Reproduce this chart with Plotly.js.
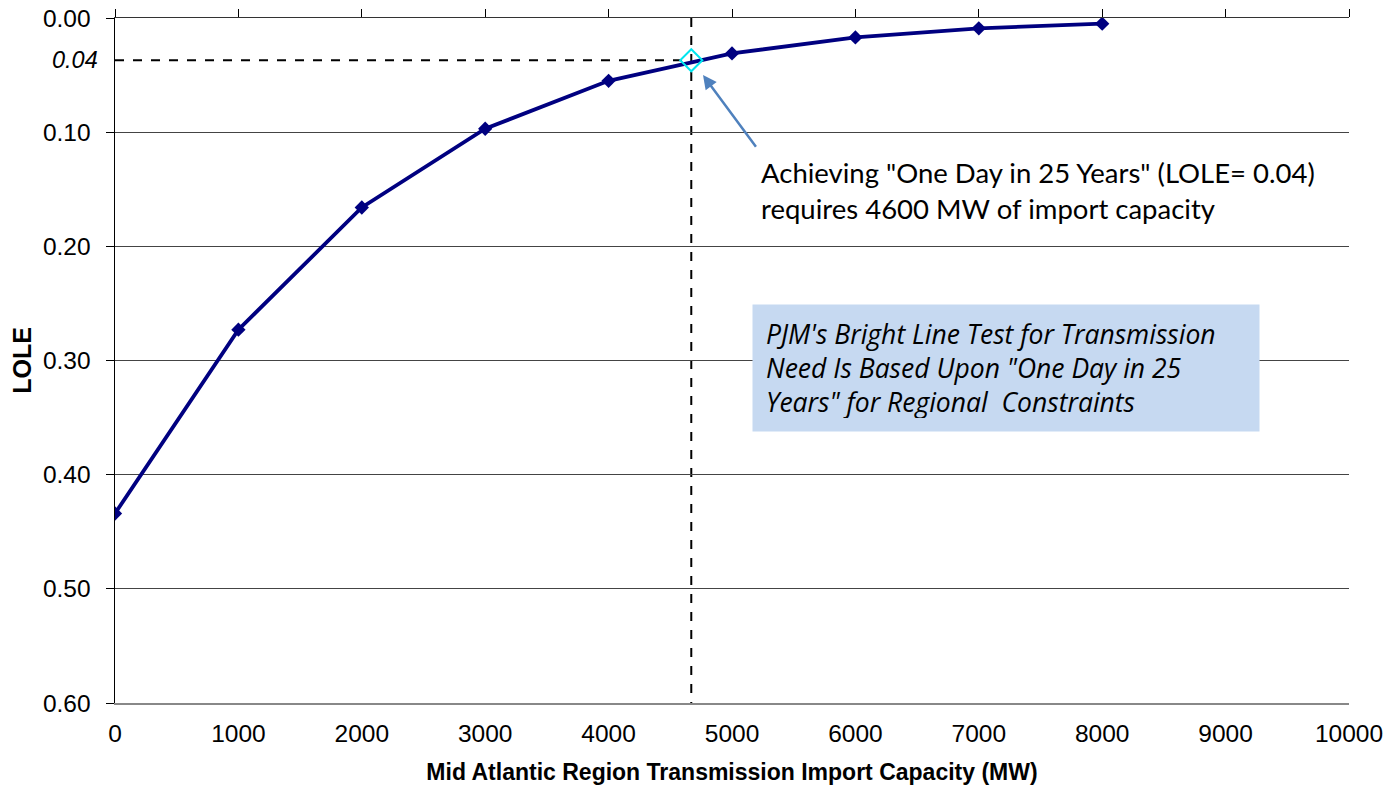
<!DOCTYPE html>
<html>
<head>
<meta charset="utf-8">
<script src="https://cdn.plot.ly/plotly-3.0.1.min.js"></script>
<style>html,body{margin:0;padding:0;background:#fff;}#chart{width:1391px;height:793px;}</style>
</head>
<body>
<div id="chart"></div>
<script>
// Data
const importCapacityMW = [0, 1000, 2000, 3000, 4000, 5000, 6000, 7000, 8000];
const loleValues = [0.434, 0.273, 0.166, 0.097, 0.055, 0.031, 0.017, 0.009, 0.005];
const targetCapacityMW = [4670];
const targetLole = [0.037];
const xTickValues = [0, 1000, 2000, 3000, 4000, 5000, 6000, 7000, 8000, 9000, 10000];
const xTickLabels = ['0', '1000', '2000', '3000', '4000', '5000', '6000', '7000', '8000', '9000', '10000'];
const yTickValues = [0, 0.1, 0.2, 0.3, 0.4, 0.5, 0.6];
const targetLabel = "0.04";
const calloutText = 'Achieving "One Day in 25 Years" (LOLE= 0.04)<br>requires 4600 MW of import capacity';
const boxText = "PJM's Bright Line Test for Transmission<br>Need Is Based Upon \"One Day in 25<br>Years\" for Regional  Constraints";

const traces = [
  {
    x: importCapacityMW, y: loleValues, type: 'scatter', mode: 'lines+markers',
    line: {color: '#000080', width: 3.8},
    marker: {symbol: 'diamond', size: 11, color: '#000080'},
    hoverinfo: 'x+y', showlegend: false
  },
  {
    x: targetCapacityMW, y: targetLole, type: 'scatter', mode: 'markers',
    marker: {symbol: 'diamond-open', size: 17, color: '#00e5ee', line: {width: 2, color: '#00e5ee'}},
    showlegend: false
  },
  {
    x: [0, 10000], y: [0, 0], xaxis: 'x2', yaxis: 'y', type: 'scatter', mode: 'none',
    showlegend: false, hoverinfo: 'skip'
  }
];

const tX = targetCapacityMW[0], tY = targetLole[0];
const tickFont = {family: 'Liberation Sans, Arial, sans-serif', size: 24.5, color: '#000'};

const layout = {
  width: 1391, height: 793,
  margin: {l: 115, r: 42, t: 18, b: 90},
  paper_bgcolor: '#ffffff', plot_bgcolor: '#ffffff',
  font: {family: 'Liberation Sans, Arial, sans-serif', size: 19, color: '#000'},
  showlegend: false,
  xaxis: {
    range: [0, 10000], tickvals: xTickValues, ticktext: xTickLabels, ticks: '', showgrid: false, zeroline: false,
    showline: true, linecolor: '#888', linewidth: 1.5,
    tickfont: tickFont, ticklabelstandoff: 8,
    title: {text: 'Mid Atlantic Region Transmission Import Capacity (MW)',
            font: {family: 'Liberation Sans, Arial, sans-serif', size: 23, weight: 'bold'}, standoff: 18}
  },
  xaxis2: {
    overlaying: 'x', side: 'top', range: [0, 10000], tickvals: xTickValues,
    ticks: 'outside', ticklen: 8, tickcolor: '#000', tickwidth: 1,
    showticklabels: false, showgrid: false, zeroline: false,
    showline: true, linecolor: '#333', linewidth: 1.5
  },
  yaxis: {
    range: [0.6, 0], tickvals: yTickValues, tickformat: '.2f',
    ticks: 'outside', ticklen: 8, tickcolor: '#000', tickwidth: 1,
    showgrid: true, gridcolor: '#444', gridwidth: 1, zeroline: false,
    showline: true, linecolor: '#000', linewidth: 1.5,
    tickfont: tickFont, ticklabelstandoff: 10,
    title: {text: 'LOLE', font: {family: 'Liberation Sans, Arial, sans-serif', size: 25, weight: 'bold'}, standoff: 4}
  },
  yaxis2: {
    overlaying: 'y', side: 'right', range: [0.6, 0], showticklabels: false, ticks: '',
    showgrid: false, zeroline: false, showline: true, linecolor: '#888', linewidth: 1.5
  },
  shapes: [
    {type: 'line', xref: 'x', yref: 'y', x0: 0, x1: tX, y0: tY, y1: tY,
     line: {color: '#000', width: 2, dash: 'dash'}, layer: 'below'},
    {type: 'line', xref: 'x', yref: 'y', x0: tX, x1: tX, y0: 0, y1: 0.6,
     line: {color: '#000', width: 2, dash: 'dash'}, layer: 'below'}
  ],
  annotations: [
    {x: 0, y: tY, xref: 'x', yref: 'y', text: targetLabel, showarrow: false,
     xanchor: 'right', yanchor: 'middle', xshift: -15,
     font: {family: 'Liberation Sans, Arial, sans-serif', size: 23.5, style: 'italic'}},
    {x: 4765, y: 0.05, xref: 'x', yref: 'y', ax: 5203, ay: 0.114, axref: 'x', ayref: 'y',
     text: '', showarrow: true, arrowhead: 2, arrowsize: 1.1, arrowwidth: 2.5, arrowcolor: '#4f81bd'},
    {x: 0.5215, y: 0.7475, xref: 'paper', yref: 'paper', text: calloutText, showarrow: false,
     xanchor: 'left', yanchor: 'middle', align: 'left',
     font: {family: 'Lato, sans-serif', size: 27.5, color: '#000'}},
    {x: 0.5165, y: 0.5825, xref: 'paper', yref: 'paper', text: boxText, showarrow: false,
     xanchor: 'left', yanchor: 'top', align: 'left', width: 480, height: 100, borderpad: 13,
     bgcolor: '#c6d9f1',
     font: {family: 'Open Sans, sans-serif', size: 26.5, style: 'italic', color: '#000'}}
  ]
};

Plotly.newPlot('chart', traces, layout, {displayModeBar: false, staticPlot: true});
</script>
</body>
</html>
